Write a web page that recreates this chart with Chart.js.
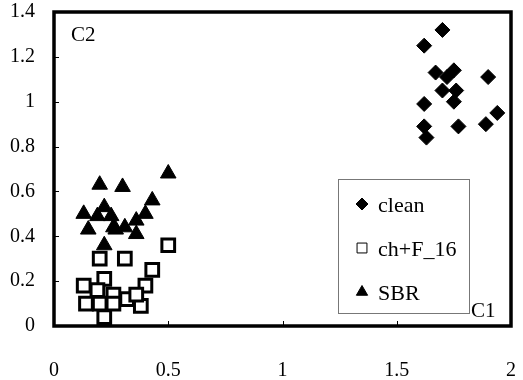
<!DOCTYPE html>
<html>
<head>
<meta charset="utf-8">
<script src="https://cdn.jsdelivr.net/npm/chart.js@4.4.1/dist/chart.umd.min.js"></script>
<style>
  html, body { margin: 0; padding: 0; background: #fff; }
  #wrap { width: 523px; height: 380px; }
</style>
</head>
<body>
<div id="wrap"><canvas id="c1c2"></canvas></div>
<script>
// values
const cleanX = [1.70, 1.62, 1.67, 1.75, 1.72, 1.70, 1.76, 1.75, 1.90, 1.62, 1.94, 1.89, 1.77, 1.62, 1.63];
const cleanY = [1.32, 1.25, 1.13, 1.14, 1.11, 1.05, 1.05, 1.00, 1.11, 0.99, 0.95, 0.90, 0.89, 0.89, 0.84];

const chX = [0.50, 0.20, 0.31, 0.43, 0.13, 0.22, 0.19, 0.26, 0.40, 0.14, 0.20, 0.26, 0.32, 0.38, 0.22, 0.36];
const chY = [0.36, 0.30, 0.30, 0.25, 0.18, 0.21, 0.16, 0.14, 0.18, 0.10, 0.10, 0.10, 0.12, 0.09, 0.04, 0.14];

const sbrX = [0.50, 0.20, 0.30, 0.43, 0.22, 0.13, 0.19, 0.25, 0.40, 0.15, 0.26, 0.31, 0.36, 0.36, 0.22, 0.27];
const sbrY = [0.68, 0.63, 0.62, 0.56, 0.53, 0.50, 0.49, 0.49, 0.50, 0.43, 0.44, 0.44, 0.47, 0.41, 0.36, 0.43];

const xTicks = [0, 0.5, 1, 1.5, 2];
const yTicks = [0, 0.2, 0.4, 0.6, 0.8, 1, 1.2, 1.4];

const seriesNames = ['clean', 'ch+F_16', 'SBR'];

function toPoints(xs, ys) {
  return xs.map((x, i) => ({ x: x, y: ys[i] }));
}

const serif = '"Liberation Serif", "Times New Roman", serif';

const framePlugin = {
  id: 'frame',
  afterDraw(chart) {
    const ctx = chart.ctx;
    const a = chart.chartArea;
    const xs = chart.scales.x, ys = chart.scales.y;
    ctx.save();
    ctx.strokeStyle = '#000';
    ctx.fillStyle = '#000';

    // small inward ticks
    ctx.lineWidth = 1;
    ctx.beginPath();
    yTicks.slice(1, -1).forEach(v => {
      const py = Math.round(ys.getPixelForValue(v)) + 0.5;
      ctx.moveTo(a.left, py);
      ctx.lineTo(a.left + 5, py);
    });
    xTicks.slice(1, -1).forEach(v => {
      const px = Math.round(xs.getPixelForValue(v)) + 0.5;
      ctx.moveTo(px, a.bottom);
      ctx.lineTo(px, a.bottom - 5);
    });
    ctx.stroke();

    // heavy frame
    ctx.lineWidth = 3.5;
    ctx.strokeRect(a.left, a.top, a.right - a.left, a.bottom - a.top);

    // axis names inside the plot
    ctx.font = '21px ' + serif;
    ctx.textBaseline = 'alphabetic';
    ctx.textAlign = 'left';
    ctx.fillText('C2', a.left + 17, a.top + 29);
    ctx.fillText('C1', a.right - 40, a.bottom - 9);

    // legend box
    const bx = 338, by = 179, bw = 131, bh = 134;
    ctx.lineWidth = 1;
    ctx.strokeStyle = '#777';
    ctx.strokeRect(bx + 0.5, by + 0.5, bw, bh);

    const rows = [212, 256, 300];
    ctx.font = '22px ' + serif;
    chart.data.datasets.forEach((ds, i) => {
      const my = rows[i] - 8;
      ctx.fillStyle = ds.backgroundColor;
      ctx.strokeStyle = ds.borderColor;
      Chart.helpers.drawPoint(ctx, {
        pointStyle: ds.pointStyle,
        radius: ds.legendRadius,
        rotation: 0,
        borderWidth: ds.borderWidth
      }, 362, my);
      ctx.fillStyle = '#000';
      ctx.fillText(ds.label, 378, rows[i]);
    });
    ctx.restore();
  }
};

const data = {
  datasets: [
    {
      label: seriesNames[0],
      data: toPoints(cleanX, cleanY),
      pointStyle: 'rectRot',
      pointRadius: 7.5,
      backgroundColor: '#000',
      borderColor: '#000',
      borderWidth: 1,
      legendRadius: 6
    },
    {
      label: seriesNames[1],
      data: toPoints(chX, chY),
      pointStyle: 'rect',
      pointRadius: 9,
      backgroundColor: '#fff',
      borderColor: '#000',
      borderWidth: 3,
      legendRadius: 7
    },
    {
      label: seriesNames[2],
      data: toPoints(sbrX, sbrY),
      pointStyle: 'triangle',
      pointRadius: 9,
      backgroundColor: '#000',
      borderColor: '#000',
      borderWidth: 1,
      legendRadius: 6.5
    }
  ]
};

const config = {
  type: 'scatter',
  data: data,
  options: {
    responsive: true,
    maintainAspectRatio: false,
    animation: false,
    layout: {
      padding: { top: 12, right: 6, left: 0, bottom: 0 }
    },
    scales: {
      x: {
        min: 0,
        max: 2,
        afterBuildTicks: axis => { axis.ticks = xTicks.map(v => ({ value: v })); },
        afterFit: axis => { axis.height = 54; },
        // tickLength only pushes the labels down, the marks are hidden
        grid: { display: false, drawTicks: true, tickLength: 33 },
        border: { display: false },
        ticks: {
          padding: 0,
          color: '#000',
          font: { family: serif, size: 20 },
          callback: v => String(v)
        }
      },
      y: {
        min: 0,
        max: 1.4,
        afterBuildTicks: axis => { axis.ticks = yTicks.map(v => ({ value: v })); },
        afterFit: axis => { axis.width = 54; },
        grid: { display: false, drawTicks: true, tickLength: 19 },
        border: { display: false },
        ticks: {
          padding: 0,
          color: '#000',
          font: { family: serif, size: 20 },
          callback: v => String(v)
        }
      }
    },
    plugins: {
      legend: { display: false },
      title: { display: false },
      tooltip: { enabled: false }
    }
  },
  plugins: [framePlugin]
};

var myChart = new Chart(
  document.getElementById('c1c2'),
  config
);
</script>
</body>
</html>
